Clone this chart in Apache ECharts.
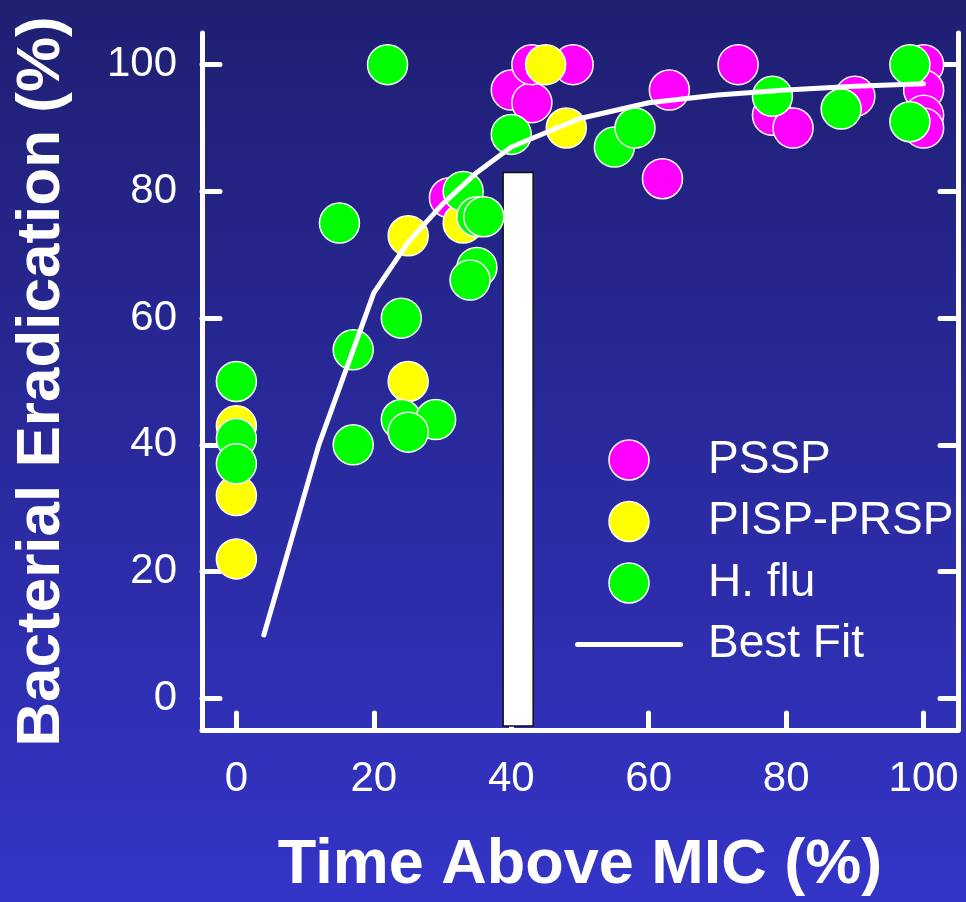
<!DOCTYPE html>
<html>
<head>
<meta charset="utf-8">
<title>Bacterial Eradication vs Time Above MIC</title>
<script src="https://cdn.jsdelivr.net/npm/echarts@6/dist/echarts.min.js"></script>
<style>
  html, body { margin: 0; padding: 0; }
  #chart { width: 966px; height: 902px; }
</style>
</head>
<body>
<div id="chart"></div>
<script>
// data: [time above MIC %, eradication %]
const pssp = [
  [31, 79], [40, 96], [43, 94], [43, 100], [49, 100], [62, 82], [63, 96],
  [73, 100], [78, 92], [81, 90], [90, 95], [100, 100], [100, 96], [100, 92], [100, 90]
];
const pispPrsp = [
  [0, 43], [0, 32], [0, 22], [25, 73], [25, 50], [33, 75], [45, 100], [48, 90]
];
const hFlu = [
  [0, 50], [0, 41], [0, 37], [15, 75], [17, 55], [17, 40], [22, 100], [24, 60],
  [24, 44], [29, 44], [25, 42], [33, 80], [35, 76], [36, 76], [35, 68], [34, 66],
  [40, 89], [55, 87], [58, 90], [78, 95], [88, 93], [98, 100], [98, 91]
];
const bestFit = [
  [4, 10], [12, 40], [20, 64], [25, 72], [30, 78], [35, 83], [40, 87],
  [50, 91.5], [60, 94], [70, 95.2], [80, 96], [90, 96.6], [100, 97]
];
// white marker bar at 41 % reaching 83 %
const markerBar = [[41, 83]];

const xTicks = [0, 20, 40, 60, 80, 100];
const yTicks = [0, 20, 40, 60, 80, 100];
const AXIS_MIN = -5;
const AXIS_MAX = 105;

const FONT = 'Liberation Sans, Arial, sans-serif';

const chart = echarts.init(document.getElementById('chart'));

const axisLineStyle = { color: '#fff', width: 5, cap: 'round' };
const tickStyle = { color: '#fff', width: 5, cap: 'round' };

// flat line with rounded ends for the "Best Fit" legend entry
const lineIcon = 'path://M2.5,0 H105.5 A2.5,2.5 0 0 1 105.5,5 H2.5 A2.5,2.5 0 0 1 2.5,0 Z';

const option = {
  animation: false,
  backgroundColor: new echarts.graphic.LinearGradient(0, 0, 0, 1, [
    { offset: 0, color: '#1f1f72' },
    { offset: 1, color: '#3434c8' }
  ]),
  grid: { left: 202, right: 8, top: 33, bottom: 171 },
  legend: {
    orient: 'vertical',
    left: 575,
    top: 437,
    padding: 0,
    itemWidth: 108,
    itemHeight: 40,
    itemGap: 15.5,
    data: [
      'PSSP',
      'PISP-PRSP',
      'H. flu',
      { name: 'Best Fit', icon: lineIcon, itemStyle: { color: '#ffffff', borderWidth: 0 } }
    ],
    textStyle: { color: '#fff', fontSize: 46, fontFamily: FONT, padding: [0, 0, 0, 20] },
    itemStyle: { borderWidth: 1.5 }
  },
  xAxis: {
    type: 'value',
    min: AXIS_MIN,
    max: AXIS_MAX,
    name: 'Time Above MIC (%)',
    nameLocation: 'middle',
    nameGap: 104,
    nameTextStyle: { color: '#fff', fontSize: 63, fontWeight: 'bold', fontFamily: FONT },
    splitLine: { show: false },
    axisLine: { onZero: false, lineStyle: axisLineStyle },
    axisTick: { inside: true, length: 17, lineStyle: tickStyle, customValues: xTicks },
    axisLabel: { color: '#fff', fontSize: 42, fontFamily: FONT, margin: 28, customValues: xTicks }
  },
  yAxis: [
    {
      type: 'value',
      min: AXIS_MIN,
      max: AXIS_MAX,
      position: 'left',
      name: 'Bacterial Eradication (%)',
      nameLocation: 'middle',
      nameRotate: 90,
      nameGap: 129,
      nameTextStyle: { color: '#fff', fontSize: 62, fontWeight: 'bold', fontFamily: FONT },
      splitLine: { show: false },
      axisLine: { show: true, onZero: false, lineStyle: axisLineStyle },
      axisTick: { show: true, inside: true, length: 18, lineStyle: tickStyle, customValues: yTicks },
      axisLabel: { color: '#fff', fontSize: 42, fontFamily: FONT, margin: 25, customValues: yTicks }
    },
    {
      type: 'value',
      min: AXIS_MIN,
      max: AXIS_MAX,
      position: 'right',
      splitLine: { show: false },
      axisLine: { show: true, onZero: false, lineStyle: axisLineStyle },
      axisTick: { show: true, inside: true, length: 18, lineStyle: tickStyle, customValues: yTicks },
      axisLabel: { show: false }
    }
  ],
  series: [
    {
      name: 'marker',
      type: 'custom',
      data: markerBar,
      z: 1,
      renderItem: function (params, api) {
        const x = api.value(0);
        const top = api.coord([x, api.value(1)]);
        const bottom = api.coord([x, AXIS_MIN]);
        const w = 30;
        return {
          type: 'rect',
          shape: { x: top[0] - w / 2, y: top[1], width: w, height: bottom[1] - top[1] - 4 },
          style: { fill: '#ffffff', stroke: '#111111', lineWidth: 1.5 }
        };
      }
    },
    {
      name: 'Best Fit',
      type: 'line',
      data: bestFit,
      symbol: 'none',
      z: 3,
      lineStyle: { color: '#ffffff', width: 5, cap: 'round', join: 'round' },
      itemStyle: { color: '#ffffff' }
    },
    {
      name: 'PSSP',
      type: 'scatter',
      data: pssp,
      symbolSize: 40,
      z: 2,
      itemStyle: { color: '#ff00ff', borderColor: '#ffffff', borderWidth: 1.5, opacity: 1 }
    },
    {
      name: 'PISP-PRSP',
      type: 'scatter',
      data: pispPrsp,
      symbolSize: 40,
      z: 2,
      itemStyle: { color: '#ffff00', borderColor: '#ffffff', borderWidth: 1.5, opacity: 1 }
    },
    {
      name: 'H. flu',
      type: 'scatter',
      data: hFlu,
      symbolSize: 40,
      z: 2,
      itemStyle: { color: '#00ff00', borderColor: '#ffffff', borderWidth: 1.5, opacity: 1 }
    }
  ]
};

chart.setOption(option);
</script>
</body>
</html>
